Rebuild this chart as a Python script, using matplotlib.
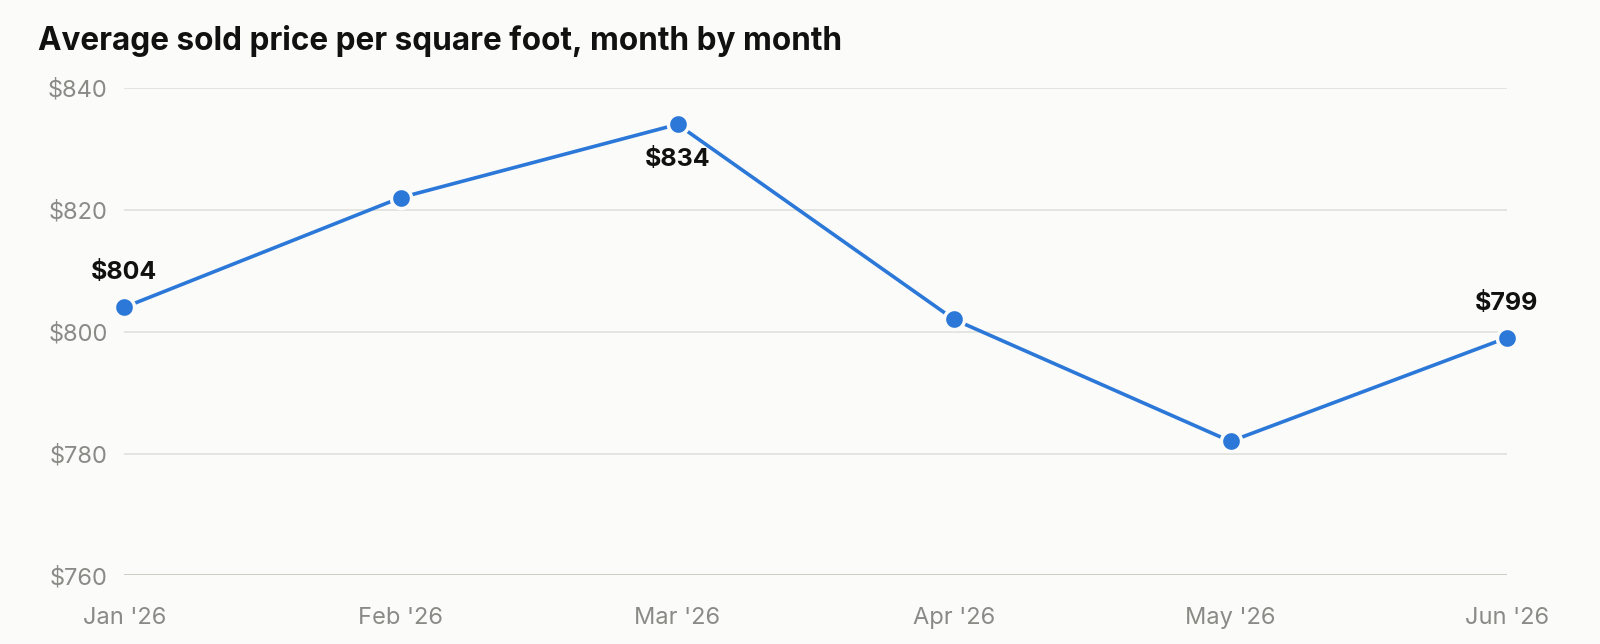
import matplotlib
matplotlib.use("Agg")
import matplotlib.pyplot as plt

months = ["Jan '26", "Feb '26", "Mar '26", "Apr '26", "May '26", "Jun '26"]
prices = [804, 822, 834, 802, 782, 799]
yticks = [760, 780, 800, 820, 840]
labeled = {0: "above", 2: "below", 5: "above"}

BG = "#fbfbf9"
BLUE = "#2b78d8"
plt.rcParams['font.family'] = ['Inter', 'DejaVu Sans']

fig = plt.figure(figsize=(16, 6.44), dpi=100, facecolor=BG)
ax = fig.add_axes([0.0778, 0.1064, 0.8641, 0.7573], facecolor=BG)

x = list(range(len(months)))
for t in yticks:
    ax.axhline(t, color="#c4c4bc" if t == yticks[0] else "#e0e0dc", lw=1.2, zorder=0)
ax.plot(x, prices, color=BLUE, lw=2.6, marker='o', ms=14.5,
        mfc=BLUE, mec=BG, mew=2.5, zorder=3, clip_on=False)

for i, pos in labeled.items():
    off = 25 if pos == "above" else -25
    ax.annotate(f"${prices[i]}", (x[i], prices[i]), xytext=(0, off), textcoords="offset points",
                ha="center", va="center", fontsize=18, fontweight="bold", color="#111111")

ax.set_xlim(x[0], x[-1])
ax.set_ylim(760, 840)
ax.set_yticks(yticks)
ax.set_yticklabels([f"${t}" for t in yticks])
ax.set_xticks(x)
ax.set_xticklabels(months)
ax.tick_params(axis='y', length=0, pad=12, labelsize=17, labelcolor="#8a8a86")
ax.tick_params(axis='x', length=0, pad=23, labelsize=17, labelcolor="#8a8a86")
for s in ax.spines.values():
    s.set_visible(False)

fig.text(37.5 / 1600, 1 - 41 / 644, "Average sold price per square foot, month by month",
         fontsize=22.7, fontweight="bold", color="#111111", ha="left", va="center")

fig.savefig("out.png", dpi=100, facecolor=BG)
